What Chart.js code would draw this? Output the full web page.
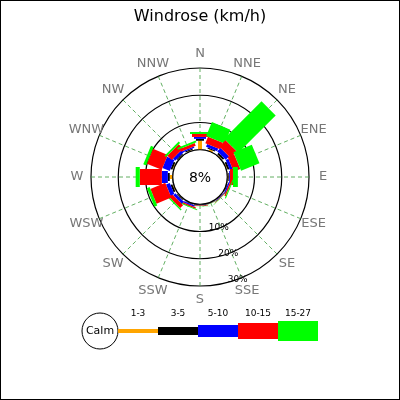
<!DOCTYPE html>
<html><head><meta charset="utf-8">
<script src="https://cdn.jsdelivr.net/npm/chart.js@4/dist/chart.umd.min.js"></script>
<style>html,body{margin:0;padding:0;background:#fff}#w{width:400px;height:400px}</style>
</head><body><div id="w"><canvas id="c"></canvas></div>
<script>
const directions = ['N','NNE','NE','ENE','E','ESE','SE','SSE','S','SSW','SW','WSW','W','WNW','NW','NNW'];
const speedClasses = ['1-3','3-5','5-10','10-15','15-27'];
const classColors = ['#ffa500','#000000','#0000ff','#ff0000','#00ff00'];
const s1_3   = [3.3,0.7,0.4,0.4,0.4,0.2,0.2,0.1,0.1,0.2,0.3,0.4,1.1,0.4,0.3,0.3];
const s3_5   = [0.7,0.4,0.7,0.7,0.3,0.2,0.1,0.1,0.1,0.2,0.3,0.7,0.7,0.7,0.4,0.4];
const s5_10  = [0.7,1.1,1.8,1.1,0.3,0.5,0.2,0.1,0.2,0.5,1.1,1.5,2.2,2.9,1.1,0.5];
const s10_15 = [1.1,2.6,3.3,2.6,1.1,0.5,0.2,0.1,0.2,0.5,1.5,5.9,8.1,5.9,2.2,1.1];
const s15_27 = [0.7,5.5,19.4,7.3,1.8,0.4,0.1,0.1,0.1,0.3,0.5,1.1,1.5,1.1,0.7,0.7];
const series = [s1_3,s3_5,s5_10,s10_15,s15_27];
const calmLabel = '8%';
const ringTicks = [10,20,30];
const barWidths = [4,8,12,16,20];

const rosePlugin = {
  id:'rose',
  beforeDraw(chart){
    const ctx=chart.ctx; ctx.save(); ctx.fillStyle='#fff'; ctx.fillRect(0,0,400,400); ctx.restore();
  },
  afterDatasetsDraw(chart){
    const sc=chart.scales.r, ctx=chart.ctx, cx=sc.xCenter, cy=sc.yCenter;
    ctx.save();
    directions.forEach((d,i)=>{
      const a=sc.getIndexAngle(i)-Math.PI/2;
      let cum=0;
      series.forEach((s,c)=>{
        const r0=sc.getDistanceFromCenterForValue(cum);
        cum+=s[i];
        const r1=sc.getDistanceFromCenterForValue(cum);
        ctx.save(); ctx.translate(cx,cy); ctx.rotate(a);
        ctx.fillStyle=classColors[c];
        ctx.fillRect(r0,-barWidths[c]/2,r1-r0,barWidths[c]);
        ctx.restore();
      });
    });
    const rc=sc.getDistanceFromCenterForValue(0);
    ctx.beginPath(); ctx.arc(cx,cy,rc,0,Math.PI*2); ctx.fillStyle='#fff'; ctx.fill();
    ctx.lineWidth=1.2; ctx.strokeStyle='#000'; ctx.stroke();
    ctx.fillStyle='#000'; ctx.textAlign='center'; ctx.textBaseline='middle';
    ctx.font='14px "DejaVu Sans"'; ctx.fillText(calmLabel,cx,cy+1);
    // ring tick labels
    ctx.font='9px "DejaVu Sans"';
    const ta=sc.getIndexAngle(7)-Math.PI/2+0.04;
    ringTicks.forEach(t=>{
      const r=sc.getDistanceFromCenterForValue(t);
      ctx.fillText(t+'%',cx+Math.cos(ta)*r,cy+Math.sin(ta)*r);
    });
    // direction labels
    ctx.font='13px "DejaVu Sans"'; ctx.fillStyle='#777';
    directions.forEach((d,i)=>{
      const a=sc.getIndexAngle(i)-Math.PI/2;
      const r=sc.drawingArea+14;
      ctx.fillText(d,cx+Math.cos(a)*r,cy+Math.sin(a)*r);
    });
    // title
    ctx.fillStyle='#000'; ctx.font='16px "DejaVu Sans"';
    ctx.fillText('Windrose (km/h)',200,17);
    // legend
    ctx.beginPath(); ctx.arc(100,331,18,0,Math.PI*2); ctx.fillStyle='#fff'; ctx.fill();
    ctx.lineWidth=1; ctx.strokeStyle='#000'; ctx.stroke();
    ctx.fillStyle='#000'; ctx.font='11px "DejaVu Sans"'; ctx.fillText('Calm',100,331);
    ctx.font='9px "DejaVu Sans"';
    speedClasses.forEach((l,c)=>{
      const x0=118+c*40;
      ctx.fillStyle=classColors[c];
      ctx.fillRect(x0,331-barWidths[c]/2,40,barWidths[c]);
      ctx.fillStyle='#000'; ctx.fillText(l,x0+20,314);
    });
    ctx.strokeStyle='#000'; ctx.lineWidth=1; ctx.strokeRect(0.5,0.5,399,399);
    ctx.restore();
  }
};

new Chart(document.getElementById('c'),{
  type:'radar',
  data:{labels:directions,datasets:[{data:directions.map(()=>0),pointRadius:0,borderWidth:0,fill:false}]},
  options:{
    responsive:true,maintainAspectRatio:false,animation:false,
    layout:{padding:{left:91,right:91,top:68,bottom:114}},
    plugins:{legend:{display:false},title:{display:false},tooltip:{enabled:false}},
    scales:{r:{min:-10,max:30,
      ticks:{stepSize:10,display:false},
      grid:{color:'#000',lineWidth:1.2,circular:true},
      angleLines:{color:'#3a9a3a',lineWidth:0.8,borderDash:[4,3]},
      pointLabels:{display:false}}}
  },
  plugins:[rosePlugin]
});
</script></body></html>
